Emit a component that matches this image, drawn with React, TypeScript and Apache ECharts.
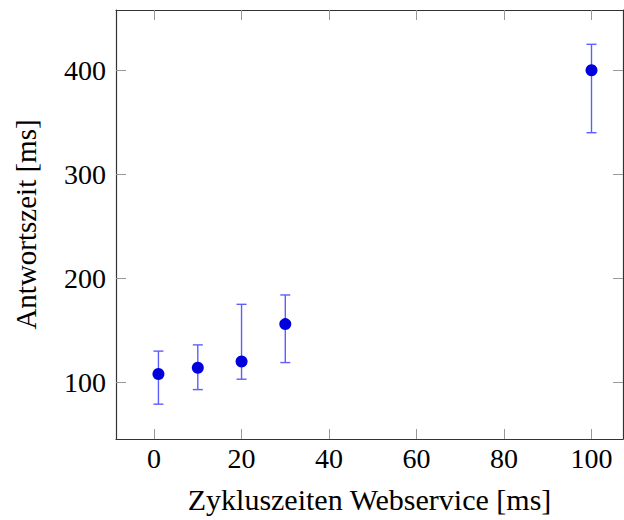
import React, { useEffect, useRef } from "react";
import * as echarts from "echarts";

const xValues = [1, 10, 20, 30, 100];
const yValues = [108, 114, 120, 156, 400];
const yLow = [79, 93, 103, 119, 340];
const yHigh = [130, 136, 175, 184, 425];
const xTicks = [0, 20, 40, 60, 80, 100];
const yTicks = [100, 200, 300, 400];
const xName = "Zykluszeiten Webservice [ms]";
const yName = "Antwortszeit [ms]";

const FONT = "Liberation Serif";

export default function App() {
  const ref = useRef<HTMLDivElement>(null);
  useEffect(() => {
    if (!ref.current) return;
    const chart = echarts.init(ref.current, null, { renderer: "svg" });
    const points = xValues.map((x, i) => [x, yValues[i]]);
    const errs = xValues.map((x, i) => [x, yLow[i], yHigh[i]]);
    const tickStyle = { show: true, inside: true, length: 10, lineStyle: { color: "#999", width: 1 } };
    const lineStyle = { show: true, onZero: false, lineStyle: { color: "#333", width: 1.2 } };
    const xMin = -8.7, xMax = 107.2, yMin = 45.5, yMax = 458;
    chart.setOption({
      animation: false,
      textStyle: { fontFamily: FONT },
      grid: { left: 116, right: 1, top: 10, bottom: 81 },
      xAxis: [
        {
          type: "value", min: xMin, max: xMax, position: "bottom",
          name: xName, nameLocation: "middle", nameGap: 45,
          nameTextStyle: { fontFamily: FONT, fontSize: 30, color: "#000" },
          axisLine: lineStyle,
          axisTick: { ...tickStyle, customValues: xTicks },
          axisLabel: { customValues: xTicks, fontFamily: FONT, fontSize: 28, color: "#000", margin: 5 },
          splitLine: { show: false },
        },
        {
          type: "value", min: xMin, max: xMax, position: "top",
          axisLine: lineStyle,
          axisTick: { ...tickStyle, customValues: xTicks },
          axisLabel: { show: false },
          splitLine: { show: false },
        },
      ],
      yAxis: [
        {
          type: "value", min: yMin, max: yMax, position: "left",
          name: yName, nameLocation: "middle", nameGap: 76, nameRotate: 90,
          nameTextStyle: { fontFamily: FONT, fontSize: 29, color: "#000" },
          axisLine: lineStyle,
          axisTick: { ...tickStyle, customValues: yTicks },
          axisLabel: { customValues: yTicks, fontFamily: FONT, fontSize: 28, color: "#000", margin: 10 },
          splitLine: { show: false },
        },
        {
          type: "value", min: yMin, max: yMax, position: "right",
          axisLine: lineStyle,
          axisTick: { ...tickStyle, customValues: yTicks },
          axisLabel: { show: false },
          splitLine: { show: false },
        },
      ],
      series: [
        {
          type: "custom",
          data: errs,
          z: 2,
          renderItem: (params: any, api: any) => {
            const x = api.value(0);
            const lo = api.coord([x, api.value(1)]);
            const hi = api.coord([x, api.value(2)]);
            const cap = 5;
            const style = { stroke: "#5e5eff", lineWidth: 1.4 };
            return {
              type: "group",
              children: [
                { type: "line", shape: { x1: lo[0], y1: lo[1], x2: hi[0], y2: hi[1] }, style },
                { type: "line", shape: { x1: lo[0] - cap, y1: lo[1], x2: lo[0] + cap, y2: lo[1] }, style },
                { type: "line", shape: { x1: hi[0] - cap, y1: hi[1], x2: hi[0] + cap, y2: hi[1] }, style },
              ],
            };
          },
        },
        {
          type: "scatter",
          data: points,
          z: 3,
          symbol: "circle",
          symbolSize: 12,
          itemStyle: { color: "#0000dd", opacity: 1 },
        },
      ],
    });
    return () => chart.dispose();
  }, []);
  return (
    <div
      ref={ref}
      style={{ position: "fixed", left: 0, top: 0, width: 624, height: 520, background: "#fff" }}
    />
  );
}
